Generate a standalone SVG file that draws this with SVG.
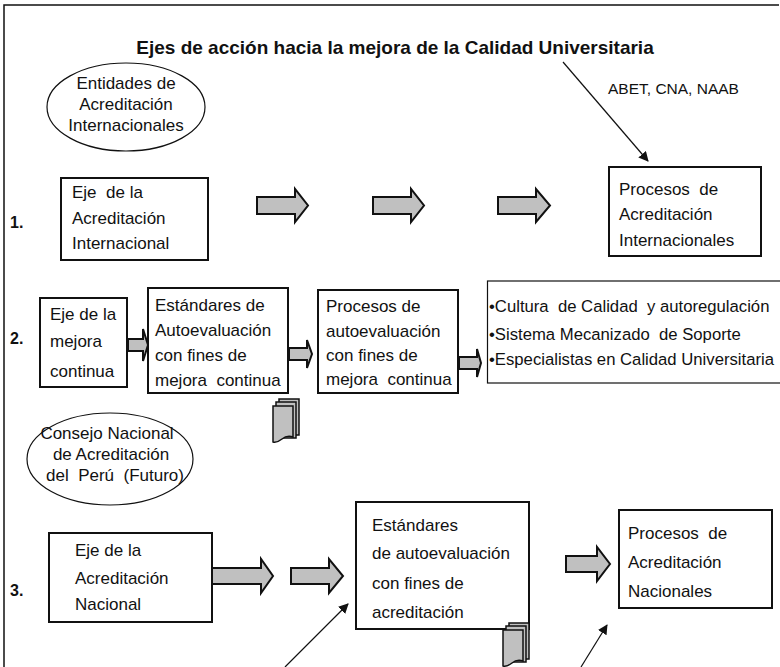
<svg xmlns="http://www.w3.org/2000/svg" width="780" height="667" viewBox="0 0 780 667">
<style>
text{font-family:"Liberation Sans",Arial,sans-serif;fill:#111;white-space:pre;}
.t{font-size:17px;}
.b{font-size:16.7px;}
.num{font-size:16px;font-weight:bold;}
.box{fill:#fff;stroke:#111;stroke-width:2;}
.ell{fill:#fff;stroke:#111;stroke-width:1.2;}
.blk{fill:#c0c0c0;stroke:#111;stroke-width:2;stroke-linejoin:miter;}
.ln{stroke:#111;stroke-width:1.2;fill:none;}
.doc{fill:#c0c0c0;stroke:#111;stroke-width:1.5;}
</style>
<defs>
<marker id="ah" viewBox="0 0 10 10" refX="9" refY="5" markerWidth="10" markerHeight="10" orient="auto" markerUnits="userSpaceOnUse">
<path d="M0,0 L10,5 L0,10 Z" fill="#111"/>
</marker>
<g id="docs">
<rect class="doc" x="6" y="0" width="20" height="36"/>
<rect class="doc" x="3" y="3" width="20" height="36"/>
<path class="doc" d="M0,7 H20 V38 Q14,36 9,40 T0,43 Z"/>
</g>
</defs>
<rect width="780" height="667" fill="#fff"/>
<path d="M779,5 H4 V667" fill="none" stroke="#111" stroke-width="1.5"/>

<text x="395" y="54" text-anchor="middle" style="font-size:19px;font-weight:bold">Ejes de acción hacia la mejora de la Calidad Universitaria</text>
<text x="608" y="94" style="font-size:15.5px">ABET, CNA, NAAB</text>

<g id="ellipse-internacional">
<ellipse class="ell" cx="126" cy="107" rx="79" ry="44"/>
<text class="t" x="126" y="89" text-anchor="middle">Entidades de</text>
<text class="t" x="126" y="110" text-anchor="middle">Acreditación</text>
<text class="t" x="126" y="131" text-anchor="middle">Internacionales</text>
</g>

<text class="num" x="10" y="228">1.</text>
<g id="eje-acreditacion-internacional">
<rect class="box" x="61" y="178" width="147" height="82"/>
<text class="t" x="72" y="198">Eje  de la</text>
<text class="t" x="72" y="224">Acreditación</text>
<text class="t" x="72" y="249">Internacional</text>
</g>
<g id="procesos-internacionales">
<rect class="box" x="609" y="167" width="152" height="89"/>
<text class="t" x="619" y="195">Procesos  de</text>
<text class="t" x="619" y="220">Acreditación</text>
<text class="t" x="619" y="246">Internacionales</text>
</g>

<text class="num" x="10" y="344">2.</text>
<g id="eje-mejora-continua">
<rect class="box" x="40" y="298" width="87" height="89"/>
<text class="t" x="50" y="320">Eje de la</text>
<text class="t" x="50" y="347">mejora</text>
<text class="t" x="50" y="377">continua</text>
</g>
<g id="estandares-mejora">
<rect class="box" x="148" y="288" width="140" height="105"/>
<text class="t" x="155" y="311">Estándares de</text>
<text class="t" x="155" y="336">Autoevaluación</text>
<text class="t" x="155" y="361">con fines de</text>
<text class="t" x="155" y="386">mejora  continua</text>
</g>
<g id="procesos-autoevaluacion">
<rect class="box" x="318" y="290" width="140" height="103"/>
<text class="t" x="326" y="312">Procesos de</text>
<text class="t" x="326" y="337">autoevaluación</text>
<text class="t" x="326" y="361">con fines de</text>
<text class="t" x="326" y="385">mejora  continua</text>
</g>
<g id="resultados">
<rect x="487.5" y="281" width="300" height="102" fill="#fff" stroke="#111" stroke-width="1.2"/>
<text class="b" x="489" y="312">•Cultura  de Calidad  y autoregulación</text>
<text class="b" x="489" y="340">•Sistema Mecanizado  de Soporte</text>
<text class="b" x="489" y="365">•Especialistas en Calidad Universitaria</text>
</g>
<g id="doc-1"><use href="#docs" x="273" y="399"/></g>

<g id="ellipse-nacional">
<ellipse class="ell" cx="110" cy="459" rx="83" ry="46"/>
<text class="t" x="107" y="439" text-anchor="middle">Consejo Nacional</text>
<text class="t" x="111" y="460" text-anchor="middle">de Acreditación</text>
<text class="t" x="115" y="481" text-anchor="middle">del  Perú  (Futuro)</text>
</g>

<text class="num" x="10" y="596">3.</text>
<g id="eje-acreditacion-nacional">
<rect class="box" x="49" y="533" width="163" height="89"/>
<text class="t" x="75" y="556">Eje de la</text>
<text class="t" x="75" y="584">Acreditación</text>
<text class="t" x="75" y="610">Nacional</text>
</g>
<g id="estandares-acreditacion">
<rect class="box" x="356" y="502" width="173" height="127"/>
<text class="t" x="372" y="531">Estándares</text>
<text class="t" x="372" y="559">de autoevaluación</text>
<text class="t" x="372" y="589">con fines de</text>
<text class="t" x="372" y="618">acreditación</text>
</g>
<g id="procesos-nacionales">
<rect class="box" x="619" y="510" width="153" height="98"/>
<text class="t" x="628" y="539">Procesos  de</text>
<text class="t" x="628" y="568">Acreditación</text>
<text class="t" x="628" y="597">Nacionales</text>
</g>
<g id="doc-2"><use href="#docs" x="503" y="623"/></g>

<g id="connectors">
<path class="blk" d="M257,197 H295 V189 L308,205.5 L295,222 V214 H257 Z"/>
<path class="blk" d="M373,197 H411 V189 L424,205.5 L411,222 V214 H373 Z"/>
<path class="blk" d="M498,197 H536 V189 L550,205.5 L536,222 V214 H498 Z"/>
<path class="blk" d="M128,339 H143 V329 L148,345 L143,361 V351 H128 Z"/>
<path class="blk" d="M289,348 H307 V340 L312,354 L307,368 V360 H289 Z"/>
<path class="blk" d="M459,357 H477 V349 L481,363 L477,377 V369 H459 Z"/>
<path class="blk" d="M212,568 H261 V559 L273,576 L261,593 V584 H212 Z"/>
<path class="blk" d="M291,568 H329 V559 L343,576 L329,593 V584 H291 Z"/>
<path class="blk" d="M566,556 H597 V547 L610,564 L597,581 V572 H566 Z"/>
<line class="ln" x1="563" y1="62" x2="648" y2="161" marker-end="url(#ah)"/>
<line class="ln" x1="285" y1="667" x2="348" y2="604" marker-end="url(#ah)"/>
<line class="ln" x1="581" y1="667" x2="607" y2="625" marker-end="url(#ah)"/>
</g>
</svg>
